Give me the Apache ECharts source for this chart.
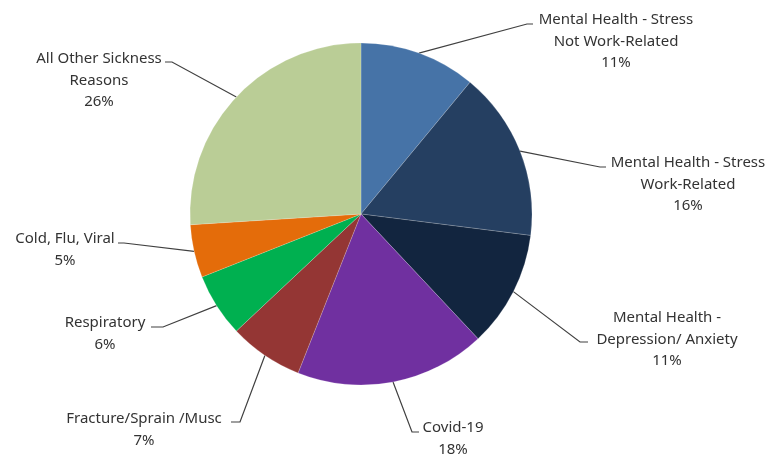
<!DOCTYPE html>
<html>
<head>
<meta charset="utf-8">
<script src="https://cdn.jsdelivr.net/npm/echarts@6/dist/echarts.min.js"></script>
<style>
  html, body { margin: 0; padding: 0; background: #fff; }
  #chart { width: 773px; height: 456px; }
</style>
</head>
<body>
<div id="chart"></div>
<script>
// slice names (clockwise from 12 o'clock)
var categories = [
  "Mental Health - Stress\nNot Work-Related",
  "Mental Health - Stress\nWork-Related",
  "Mental Health -\nDepression/ Anxiety",
  "Covid-19",
  "Fracture/Sprain /Musc",
  "Respiratory",
  "Cold, Flu, Viral",
  "All Other Sickness\nReasons"
];
var values = [11, 16, 11, 18, 7, 6, 5, 26];
var colors = ["#4673A7", "#253F61", "#12253F", "#7030A0", "#943634", "#00B050", "#E46C0A", "#BACD96"];

// where each label sits (text centre x, top y) - copied from the Excel layout
var labelPos = [
  [616, 9], [688, 152], [667, 307], [453, 417],
  [144, 408], [105, 312], [65, 228], [99, 48]
];
// leader line: elbow point, then short horizontal nub ending at x
var leaderEnd = [
  [527, 24, 533], [600, 167, 606], [580, 342, 588], [412, 432, 419],
  [240, 422, 231], [163, 327, 151], [124, 243, 118], [172, 62, 165]
];

var myChart = echarts.init(document.getElementById("chart"));
var option = {
  animation: false,
  series: [
    {
      type: "pie",
      center: [361, 214],
      radius: 171,
      startAngle: 90,
      clockwise: true,
      avoidLabelOverlap: false,
      data: categories.map(function (name, i) {
        return { name: name, value: values[i], itemStyle: { color: colors[i] } };
      }),
      itemStyle: {
        borderColor: "rgba(255,255,255,0.35)",
        borderWidth: 0.5
      },
      label: {
        formatter: "{b}\n{c}%",
        fontFamily: "Noto Sans",
        fontSize: 15,
        lineHeight: 21.5,
        color: "#333",
        align: "center"
      },
      labelLine: {
        show: true,
        length: 30,
        length2: 5,
        lineStyle: { color: "#404040", width: 1.2 }
      },
      emphasis: { disabled: true }
    }
  ]
};
option.series[0].labelLayout = function (params) {
  var i = params.dataIndex;
  var p = labelPos[i];
  var e = leaderEnd[i];
  var start = params.labelLinePoints[0];
  return {
    x: p[0], y: p[1], align: "center", verticalAlign: "top",
    labelLinePoints: [start, [e[0], e[1]], [e[2], e[1]]]
  };
};
myChart.setOption(option);
</script>
</body>
</html>
